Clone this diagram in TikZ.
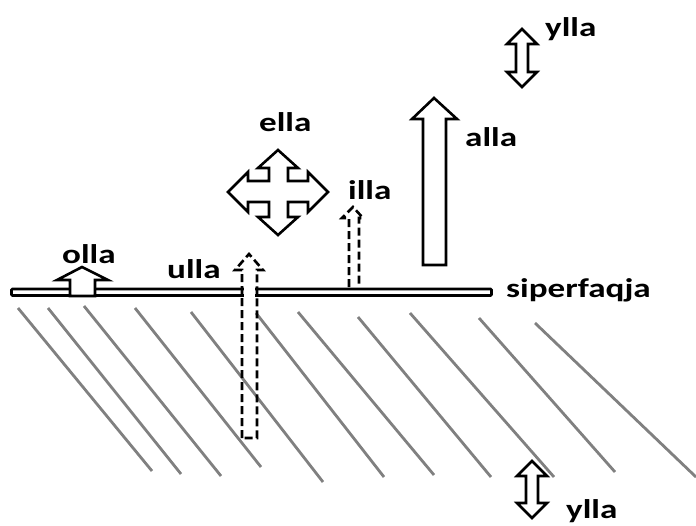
\documentclass[tikz,border=0pt]{standalone}
\usepackage{fontspec}
\newfontfamily\lblfont{Carlito}[FakeStretch=1.3]
\begin{document}
\begin{tikzpicture}[x=1pt,y=-1pt,
  lbl/.style={anchor=base west, inner sep=0pt, font=\lblfont\bfseries\fontsize{27}{27}\selectfont},
  hatch/.style={draw={rgb,255:red,128;green,128;blue,128}, line width=2.8pt},
  blockarrow/.style={draw=black, fill=white, line width=2.6pt, line join=miter},
  dasharrow/.style={draw=black, line width=2.6pt, dash pattern=on 8pt off 4pt, line join=miter},
  barstyle/.style={draw=black, fill=white, line width=2.8pt, rounded corners=1pt}]
\useasboundingbox (0,0) rectangle (696,525);
% hatch lines
\draw[hatch] (18,308) -- (152,471);
\draw[hatch] (48,308) -- (181,474);
\draw[hatch] (84,306) -- (221,476);
\draw[hatch] (135,308) -- (261,467);
\draw[hatch] (191,312) -- (323,482);
\draw[hatch] (256,313) -- (384,477);
\draw[hatch] (298,312) -- (434,475);
\draw[hatch] (358,317) -- (491,477);
\draw[hatch] (410,313) -- (554,477);
\draw[hatch] (479,318) -- (615,472);
\draw[hatch] (535,323) -- (696,477);
% surface bar
\draw[barstyle] (11.5,289) rectangle (491.5,295.5);
\fill[white] (243.6,286) rectangle (255.4,299);
% ulla well (dashed)
\draw[dasharrow] (242,438) -- (242,270) -- (235,270) -- (249,254) -- (263,270) -- (257,270) -- (257,438) -- cycle;
% illa dashed arrow
\draw[dasharrow] (349,287) -- (349,218) -- (342,218) -- (353,207) -- (363,218) -- (359,218) -- (359,287);
% olla arrow
\draw[blockarrow] (70,296) -- (70,280) -- (57,280) -- (82,267) -- (108,280) -- (95,280) -- (95,296) -- cycle;
% alla arrow
\draw[blockarrow] (423,265) -- (423,119) -- (412,119) -- (434,98) -- (457,119) -- (446,119) -- (446,265) -- cycle;
% top ylla double arrow
\draw[blockarrow] (522,29) -- (537,44) -- (528,44) -- (528,72) -- (537,72) -- (522,87) -- (507,72) -- (516,72) -- (516,44) -- (507,44) -- cycle;
% bottom ylla double arrow
\draw[blockarrow] (532,461) -- (547,476) -- (538,476) -- (538,503) -- (547,503) -- (532,518) -- (517,503) -- (526,503) -- (526,476) -- (517,476) -- cycle;
% ella cross
\draw[blockarrow] (278,150) -- (298,168) -- (288,168) -- (288,181) -- (308,181) -- (308,172) -- (328,192) -- (308,212) -- (308,202) -- (288,202) -- (288,217) -- (298,217) -- (278,235) -- (258,217) -- (269,217) -- (269,202) -- (248,202) -- (248,212) -- (228,192) -- (248,172) -- (248,181) -- (269,181) -- (269,168) -- (258,168) -- cycle;
% labels
\node[lbl] (yllatop) at (545,36) {ylla};
\node[lbl] (alla) at (465,146) {alla};
\node[lbl] (ella) at (259,131) {ella};
\node[lbl] (illa) at (348,199) {illa};
\node[lbl] (olla) at (62,263) {olla};
\node[lbl] (ulla) at (167,278) {ulla};
\node[lbl] (siperfaqja) at (506,297) {siperfaqja};
\node[lbl] (yllabot) at (566,518) {ylla};
\end{tikzpicture}
\end{document}
